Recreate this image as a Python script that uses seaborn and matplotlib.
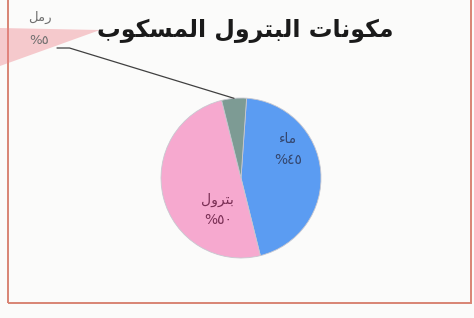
import numpy as np
import seaborn as sns
import matplotlib.pyplot as plt
from matplotlib.patches import Rectangle, Polygon

# Arabic text below is stored in presentation forms, in visual (left-to-right) order,
# because matplotlib does no Arabic shaping/bidi by itself.
title = ('\uFE8F\uFEEE\uFEDC\uFEB4\uFEE4\uFEDF\uFE8D '    # المسكوب
         '\uFEDD\uFEED\uFEAE\uFE98\uFE92\uFEDF\uFE8D '    # البترول
         '\uFE95\uFE8E\uFEE7\uFEEE\uFEDC\uFEE3')          # مكونات
categories = ['\uFE80\uFE8E\uFEE3',                 # ماء
              '\uFEDD\uFEED\uFEAE\uFE98\uFE91',     # بترول
              '\uFEDE\uFEE3\uFEAD']                 # رمل
values = [45, 50, 5]
colors = ['#5b9cf2', '#f6a9cf', '#7d9b94']
label_colors = ['#34466e', '#7a2f55', '#6f6f6f']
# where the inside labels sit (axes data units, pie radius = 1)
label_pos = [(0.59, 0.36), (-0.29, -0.40)]

def ar_digits(n):
    return str(n).translate(str.maketrans('0123456789', '٠١٢٣٤٥٦٧٨٩'))

sns.set_theme(style='white')
plt.rcParams['font.family'] = ['DejaVu Sans']

fig = plt.figure(figsize=(4.74, 3.18), dpi=100)
fig.patch.set_facecolor('#fbfbfa')

# slide frame and the faded red band in the top-left corner
fig.add_artist(Rectangle((8 / 474, 15 / 318), 463 / 474, 310 / 318,
                         transform=fig.transFigure, fill=False,
                         edgecolor='#d98474', lw=1.4))
fig.add_artist(Polygon([(0, 290 / 318), (100 / 474, 288 / 318), (0, 252 / 318)],
                       closed=True, transform=fig.transFigure,
                       facecolor='#ee7f88', alpha=0.4, lw=0))

ax = fig.add_axes([161 / 474, 60 / 318, 160 / 474, 160 / 318])
wedges, _ = ax.pie(values, colors=colors, startangle=86, counterclock=False,
                   wedgeprops=dict(edgecolor='#c8c8d0', linewidth=0.6))
ax.set_xlim(-1, 1)
ax.set_ylim(-1, 1)

# labels inside the two big slices
for (x, y), name, v, c in zip(label_pos, categories[:2], values[:2], label_colors[:2]):
    ax.text(x, y + 0.13, name, ha='center', va='center', fontsize=10, color=c)
    ax.text(x, y - 0.13, '%' + ar_digits(v), ha='center', va='center',
            fontsize=10, color=c)

# small slice: label outside with leader line
w = wedges[2]
ang = np.deg2rad((w.theta1 + w.theta2) / 2)
ax.annotate('', xy=(np.cos(ang), np.sin(ang)), xycoords='data',
            xytext=(57, 270), textcoords='figure pixels',
            arrowprops=dict(arrowstyle='-', color='#404040', lw=0.9,
                            shrinkA=0, shrinkB=0,
                            connectionstyle='angle,angleA=0,angleB=-17,rad=0'),
            annotation_clip=False)
fig.text(40 / 474, 1 - 17 / 318, categories[2], ha='center', va='center',
         fontsize=9.5, color=label_colors[2])
fig.text(39 / 474, 1 - 41 / 318, '%' + ar_digits(values[2]), ha='center',
         va='center', fontsize=9.5, color=label_colors[2])

fig.text(245 / 474, 1 - 31 / 318, title, ha='center', va='center',
         fontsize=17, fontweight='bold', color='#1a1a1a')

plt.savefig('out.png', dpi=100)
